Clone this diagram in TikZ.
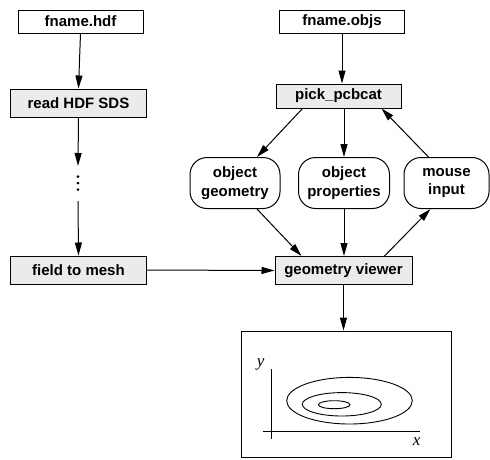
\documentclass[tikz,border=0pt]{standalone}
\usepackage{fontspec}
\setmainfont{Liberation Sans}
\newfontfamily\axisfont{Liberation Serif}
\usetikzlibrary{arrows.meta}

\definecolor{boxgray}{HTML}{EBEBEB}

\tikzset{
  filebox/.style={draw, line width=1pt, inner sep=0pt, minimum height=23pt,
    minimum width=125pt, font=\bfseries\fontsize{15}{18.3}\selectfont},
  procbox/.style={filebox, fill=boxgray, minimum height=28pt, minimum width=136pt},
  objbox/.style={filebox, rounded corners=17pt, align=center, minimum height=51pt},
  flow/.style={-{Triangle[length=13pt,width=7pt]}, line width=1pt},
}

\begin{document}
\begin{tikzpicture}[x=1pt,y=-1pt]
\useasboundingbox (0,0) rectangle (490,459);

% left column: the hdf file
\node [filebox] (hdf) at (80.5,21.5) {fname.hdf};
\node [procbox] (read) at (78.5,103) {read HDF SDS};
\coordinate (gapa) at (78,166);
\coordinate (gapb) at (78,201);
\node [procbox] (mesh) at (78.5,270) {field to mesh};

\draw [flow] (hdf.south) -- (read.north);
\draw [flow] (read.south) -- (gapa);
\fill (78,176.7) circle (1.5);
\fill (78,183.2) circle (1.5);
\fill (78,189.7) circle (1.5);
\draw [flow] (gapb) -- (mesh.north);

% right column: the objects file
\node [filebox] (objs) at (342,21.5) {fname.objs};
\node [procbox, minimum width=125pt, minimum height=24pt] (pick) at (338.5,96) {pick\_pcbcat};

\node [objbox, minimum width=90pt] (geom) at (235,183) {object\\geometry};
\node [objbox, minimum width=91pt] (props) at (344,183) {object\\properties};
\node [objbox, minimum width=85pt] (mouse) at (446.5,183) {mouse\\input};

\node [procbox, minimum width=137pt] (view) at (343.5,270.5) {geometry viewer};

\draw [flow] (objs.south) -- (objs.south |- pick.north);
\draw [flow] ([xshift=-36pt]pick.south) -- ([xshift=22pt]geom.north);
\draw [flow] (props.north |- pick.south) -- (props.north);
\draw [flow] ([xshift=-18pt]mouse.north) -- ([xshift=43pt]pick.south);

\draw [flow] ([xshift=22pt]geom.south) -- ([xshift=-42pt]view.north);
\draw [flow] (props.south) -- (props.south |- view.north);
\draw [flow] ([xshift=41pt]view.north) -- ([xshift=-16pt]mouse.south);
\draw [flow] (mesh.east) -- (view.west);

% the plot window
\node [draw, line width=1pt, minimum width=210pt, minimum height=126pt] (plot) at (346,394) {};
\draw [flow] (view.south) -- (view.south |- plot.north);

\draw [line width=0.9pt] (271.7,369) -- (271.7,439.3);
\draw [line width=0.9pt] (263.3,431.7) -- (420,431.7);
\node (ylab) at (260.7,364) {\axisfont\itshape\fontsize{17}{17}\selectfont y};
\node (xlab) at (416.7,441.5) {\axisfont\itshape\fontsize{17}{17}\selectfont x};

\draw [line width=0.9pt] (349.5,400.7) ellipse [x radius=62.8, y radius=23.3];
\draw [line width=0.9pt] (341.8,404.3) ellipse [x radius=39.5, y radius=11.7];
\draw [line width=0.9pt] (334.2,404.7) ellipse [x radius=15.8, y radius=4];

\end{tikzpicture}
\end{document}
